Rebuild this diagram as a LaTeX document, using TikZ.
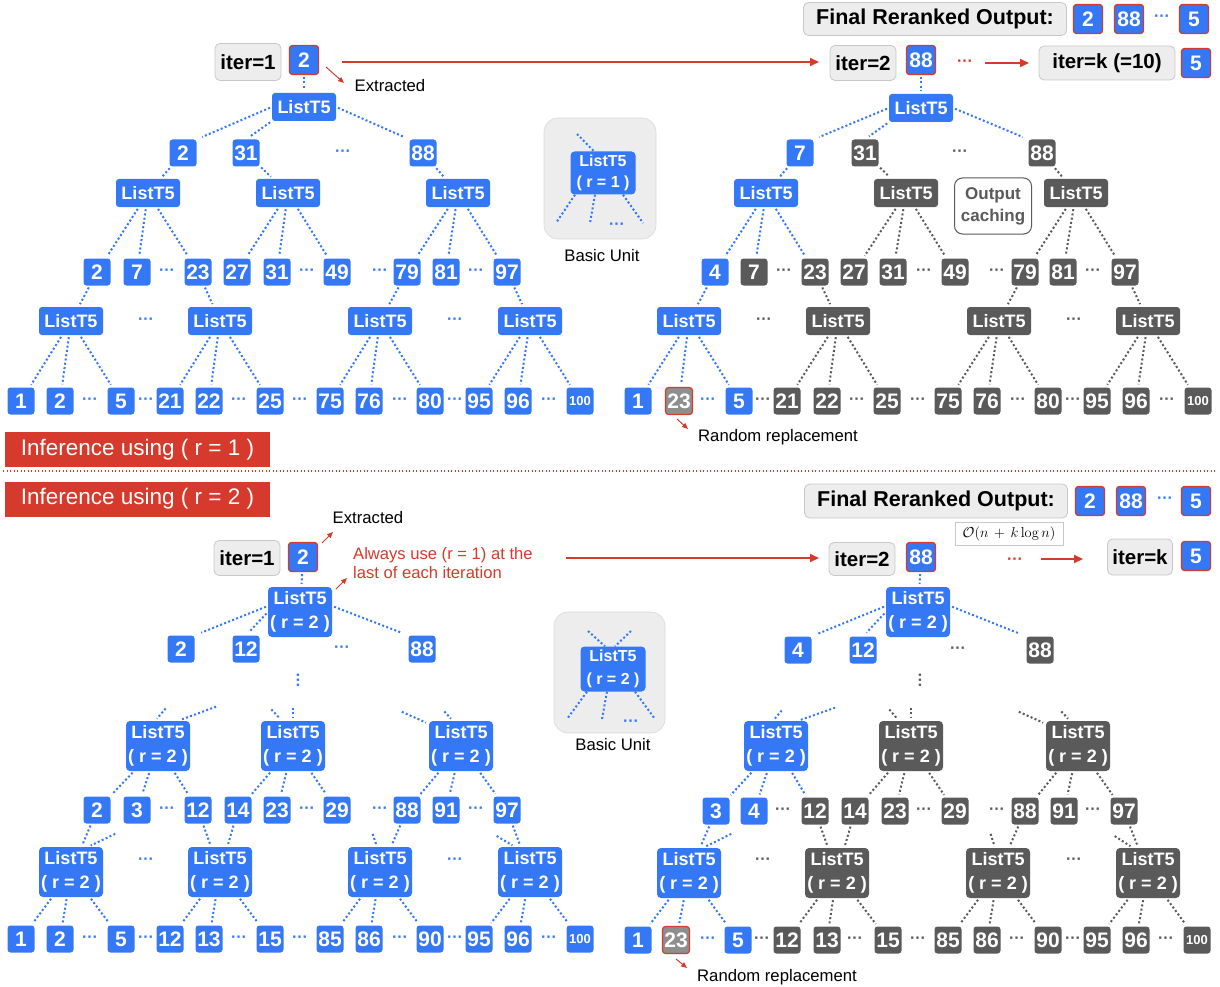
\documentclass[tikz,border=0pt]{standalone}
\usepackage[no-math]{fontspec}
\setmainfont{Liberation Sans}
\usetikzlibrary{arrows.meta,calc}
\definecolor{ublue}{HTML}{3478F6}
\definecolor{ugray}{HTML}{5A5A5A}
\definecolor{ured}{HTML}{D63A2C}
\definecolor{lbox}{HTML}{EDEDED}
\definecolor{lbord}{HTML}{C8C8C8}
\definecolor{rgray}{HTML}{8E8E8E}
\newcommand\fl[4]{\coordinate (#1) at (#2); \draw[#3] (#1) -- #4;}
\tikzset{
  num/.style={rounded corners=3pt, minimum width=27pt, minimum height=27pt, inner sep=0pt, text=white, font=\bfseries\fontsize{21}{21}\selectfont},
  nb/.style={num, fill=ublue},
  ng/.style={num, fill=ugray},
  nx/.style={num, fill=rgray, draw=ured, line width=1.2pt},
  nr/.style={num, fill=ublue, draw=ured, line width=1.3pt, minimum width=29pt, minimum height=29pt},
  small/.style={font=\bfseries\fontsize{13}{13}\selectfont},
  lt/.style={rounded corners=3pt, minimum width=64pt, minimum height=28pt, inner sep=0pt, text=white, font=\bfseries\fontsize{18}{18}\selectfont},
  ltb/.style={lt, fill=ublue},
  ltg/.style={lt, fill=ugray},
  lw/.style={rounded corners=4pt, minimum width=64pt, minimum height=50pt, inner sep=0pt, text=white, align=center, font=\bfseries\fontsize{18}{24}\selectfont},
  lwb/.style={lw, fill=ublue},
  lwg/.style={lw, fill=ugray},
  db/.style={text=ublue, font=\bfseries\fontsize{16}{16}\selectfont, inner sep=0pt},
  dg/.style={db, text=ugray},
  dr/.style={db, text=ured},
  bl/.style={draw=ublue, line width=2pt, dash pattern=on 2pt off 2.3pt, shorten <=2pt, shorten >=3pt},
  gl/.style={bl, draw=ugray},
  ibox/.style={fill=lbox, draw=lbord, line width=0.8pt, rounded corners=5pt, inner sep=0pt, font=\bfseries\fontsize{20.5}{20.5}\selectfont},
  lbl/.style={font=\fontsize{16.7}{16.7}\selectfont, inner sep=0pt},
  rarr/.style={draw=ured, line width=1.8pt, -{Triangle[length=9pt,width=8pt]}},
  rsm/.style={draw=ured, line width=1pt, -{Triangle[length=6pt,width=5pt]}},
  banner/.style={fill=ured, text=white, minimum width=265pt, minimum height=35pt, inner sep=0pt, font=\fontsize{22.5}{22.5}\selectfont},
}
\begin{document}
\begin{tikzpicture}[x=1pt,y=-1pt]
\useasboundingbox (0,0) rectangle (1220,987);

% ================= TOP HEADER =================
\node[ibox, minimum width=66pt, minimum height=37pt] (I1) at (248,62) {iter=1};
\node[nr] (O1) at (304,60) {2};
\node[ibox, minimum width=66pt, minimum height=35pt] (I2) at (863,63) {iter=2};
\node[nr] (O2) at (921,60) {88};
\node[dr] (R1) at (965,63) {···};
\node[ibox, minimum width=136pt, minimum height=34pt] (Ik) at (1107,63) {iter=k (=10)};
\node[nr] (Ok) at (1196,63) {5};
\node[ibox, minimum width=263pt, minimum height=33pt, font=\bfseries\fontsize{21.5}{21.5}\selectfont] (F1) at (935,19) {Final Reranked Output:};
\node[nr] (F1a) at (1088,19) {2};
\node[nr] (F1b) at (1129,19) {88};
\node[db] (F1c) at (1162,18) {···};
\node[nr] (F1d) at (1194,19) {5};
\coordinate (e1s) at (326,67); \coordinate (e1t) at (344,83);
\draw[rsm] (e1s) -- (e1t);
\node[lbl] (ex1) at (390,86) {Extracted};
\coordinate (a1s) at (342,62); \coordinate (a1t) at (819,62);
\draw[rarr] (a1s) -- (a1t);
\coordinate (a2s) at (985,63); \coordinate (a2t) at (1029,63);
\draw[rarr] (a2s) -- (a2t);

% ================= TOP LEFT TREE =================
\node[ltb] (A0) at (304,107) {ListT5};
\draw[bl] (O1) -- (A0);
\foreach \n/\x/\t in {a/183/2, b/246/31, c/423/88} \node[nb] (A1\n) at (\x,153) {\t};
\node[db] (A1p) at (343,153) {···};
\foreach \n/\x in {a/148,b/288,c/458} \node[ltb] (A2\n) at (\x,193) {ListT5};
\foreach \n/\x/\t in {a/97/2, b/137/7, c/198/23, d/237/27, e/277/31, f/337/49, g/407/79, h/446/81, i/507/97} \node[nb] (A3\n) at (\x,272) {\t};
\foreach \x [count=\i] in {167,307,380,476} \node[db] (A3p\i) at (\x,272) {···};
\foreach \n/\x in {a/71,b/220,c/380,d/530} \node[ltb] (A4\n) at (\x,321) {ListT5};
\foreach \x [count=\i] in {146,455} \node[db] (A4p\i) at (\x,321) {···};
\foreach \n/\x/\t in {a/21/1,b/60/2,c/121/5,d/170/21,e/209/22,f/270/25,g/330/75,h/369/76,i/430/80,j/479/95,k/518/96} \node[nb] (A5\n) at (\x,401) {\t};
\node[nb,small] (A5l) at (580,401) {100};
\foreach \x [count=\i] in {90,146,239,300,400,455,549} \node[db] (A5p\i) at (\x,401) {···};
\draw[bl, shorten >=6pt] (A0.west) -- (A1a.north east);
\draw[bl, shorten >=5pt] (A0.south west) -- (A1b.north);
\draw[bl, shorten >=6pt] (A0.east) -- (A1c.north west);
\foreach \p/\c in {A1a/A2a, A1b/A2b, A1c/A2c, A2a/A3a, A2a/A3b, A2a/A3c, A2b/A3d, A2b/A3e, A2b/A3f, A2c/A3g, A2c/A3h, A2c/A3i, A3a/A4a, A3c/A4b, A3g/A4c, A3i/A4d, A4a/A5a, A4a/A5b, A4a/A5c, A4b/A5d, A4b/A5e, A4b/A5f, A4c/A5g, A4c/A5h, A4c/A5i, A4d/A5j, A4d/A5k, A4d/A5l} \draw[bl] (\p) -- (\c);

% ================= TOP BASIC UNIT =================
\node[fill=lbox, draw=lbord!70, line width=0.6pt, rounded corners=14pt, minimum width=112pt, minimum height=121pt, inner sep=0pt] (BUa) at (600,178.5) {};
\node[lw, fill=ublue, minimum width=65pt, minimum height=43pt, font=\bfseries\fontsize{16}{21}\selectfont] (BU1) at (603,173) {ListT5\\( r = 1 )};
\coordinate (u1) at (577,134); \draw[bl, shorten <=0pt, shorten >=0pt] (u1) -- (BU1.north -| 594,0);
\coordinate (u2) at (556,223); \draw[bl, shorten <=0pt, shorten >=0pt] ([xshift=-28pt]BU1.south) -- (u2);
\coordinate (u3) at (590,223); \draw[bl, shorten <=0pt, shorten >=0pt] ([xshift=-8pt]BU1.south) -- (u3);
\coordinate (u4) at (643,223); \draw[bl, shorten <=0pt, shorten >=0pt] ([xshift=20pt]BU1.south) -- (u4);
\node[db] (BU1p) at (617,226) {···};
\node[lbl] (BU1t) at (602,256) {Basic Unit};

% ================= TOP RIGHT TREE =================
\node[ltb] (B0) at (921,108) {ListT5};
\draw[bl] (O2) -- (B0);
\foreach \n/\x/\t/\s in {a/800/7/nb, b/865/31/ng, c/1042/88/ng} \node[\s] (B1\n) at (\x,153) {\t};
\node[dg] (B1p) at (960,153) {···};
\foreach \n/\x/\s in {a/766/ltb,b/906/ltg,c/1076/ltg} \node[\s] (B2\n) at (\x,193) {ListT5};
\foreach \n/\x/\t/\s in {a/715/4/nb, b/754/7/ng, c/815/23/ng, d/854/27/ng, e/893/31/ng, f/955/49/ng, g/1025/79/ng, h/1063/81/ng, i/1125/97/ng} \node[\s] (B3\n) at (\x,272) {\t};
\foreach \x [count=\i] in {784,924,997,1093} \node[dg] (B3p\i) at (\x,272) {···};
\foreach \n/\x/\s in {a/689/ltb,b/838/ltg,c/999/ltg,d/1148/ltg} \node[\s] (B4\n) at (\x,321) {ListT5};
\foreach \x [count=\i] in {764,1074} \node[dg] (B4p\i) at (\x,321) {···};
\foreach \n/\x/\t/\s in {a/638/1/nb,b/679/23/nx,c/739/5/nb,d/787/21/ng,e/827/22/ng,f/887/25/ng,g/948/75/ng,h/987/76/ng,i/1048/80/ng,j/1097/95/ng,k/1136/96/ng} \node[\s] (B5\n) at (\x,401) {\t};
\node[ng,small] (B5l) at (1198,401) {100};
\node[db] (B5p0) at (708,401) {···};
\foreach \x [count=\i] in {763,857,918,1018,1073,1167} \node[dg] (B5p\i) at (\x,401) {···};
\draw[bl, shorten >=6pt] (B0.west) -- (B1a.north east);
\draw[bl, shorten >=5pt] (B0.south west) -- (B1b.north);
\draw[bl, shorten >=6pt] (B0.east) -- (B1c.north west);
\foreach \p/\c in {B1a/B2a, B2a/B3a, B2a/B3b, B2a/B3c, B3a/B4a, B4a/B5a, B4a/B5b, B4a/B5c} \draw[bl] (\p) -- (\c);
\foreach \p/\c in {B1b/B2b, B1c/B2c, B2b/B3d, B2b/B3e, B2b/B3f, B2c/B3g, B2c/B3h, B2c/B3i, B3c/B4b, B3g/B4c, B3i/B4d, B4b/B5d, B4b/B5e, B4b/B5f, B4c/B5g, B4c/B5h, B4c/B5i, B4d/B5j, B4d/B5k, B4d/B5l} \draw[gl] (\p) -- (\c);
\node[draw=ugray, line width=1pt, rounded corners=8pt, fill=white, minimum width=77pt, minimum height=56pt, inner sep=0pt, text=ugray, align=center, font=\bfseries\fontsize{17}{22}\selectfont] (OC) at (993,206) {Output\\caching};
\coordinate (rr1s) at (677,419); \coordinate (rr1t) at (688,429);
\draw[rsm] (rr1s) -- (rr1t);
\node[lbl] (rr1) at (778,437) {Random replacement};

% ================= BANNERS =================
\node[banner] (ban1) at (137.5,449.5) {Inference using ( r = 1 )};
\coordinate (s1) at (3,471); \coordinate (s2) at (1217,471);
\draw[ured, line width=1.3pt, dash pattern=on 1.3pt off 2.2pt] (s1) -- (s2);
\node[banner] (ban2) at (137.5,499) {Inference using ( r = 2 )};

% ================= BOTTOM HEADER =================
\node[ibox, minimum width=66pt, minimum height=35pt] (J1) at (247,558) {iter=1};
\node[nr] (P1) at (303,557) {2};
\coordinate (e2s) at (322,543); \coordinate (e2t) at (333,532);
\draw[rsm] (e2s) -- (e2t);
\node[lbl] (ex2) at (368,518) {Extracted};
\node[lbl, text=ured, align=left, anchor=west, font=\fontsize{16.6}{19}\selectfont] (note) at (353,563.5) {Always use (r = 1) at the\\last of each iteration};
\coordinate (n1s) at (336,589); \coordinate (n1t) at (347,578);
\draw[rsm] (n1s) -- (n1t);
\coordinate (a3s) at (566,558); \coordinate (a3t) at (819,558);
\draw[rarr] (a3s) -- (a3t);
\node[ibox, minimum width=66pt, minimum height=33pt] (J2) at (862,559) {iter=2};
\node[nr] (P2) at (921,557) {88};
\node[dr] (R2) at (1015,561) {···};
\coordinate (a4s) at (1041,559); \coordinate (a4t) at (1083,559);
\draw[rarr] (a4s) -- (a4t);
\node[ibox, minimum width=65pt, minimum height=36pt] (Jk) at (1140,557) {iter=k};
\node[nr] (Pk) at (1196,556) {5};
\node[ibox, minimum width=263pt, minimum height=34pt, font=\bfseries\fontsize{21.5}{21.5}\selectfont] (F2) at (936,501) {Final Reranked Output:};
\node[nr] (F2a) at (1090,501) {2};
\node[nr] (F2b) at (1131,501) {88};
\node[db] (F2c) at (1165,500) {···};
\node[nr] (F2d) at (1196,501) {5};
\node[draw=lbord, line width=0.6pt, minimum width=108pt, minimum height=23pt, inner sep=0pt, font=\fontsize{14}{14}\selectfont] (cx) at (1009,533.5) {$\mathcal{O}(n\,+\,k\log n)$};

% ================= BOTTOM LEFT TREE =================
\node[lwb] (C0) at (300,612) {ListT5\\( r = 2 )};
\draw[bl] (P1) -- (C0);
\foreach \n/\x/\t in {a/181/2, b/246/12, c/422/88} \node[nb] (C1\n) at (\x,649) {\t};
\node[db] (C1p) at (342,649) {···};
\node[db, rotate=90] (C1v) at (300,680) {···};
\foreach \n/\x in {a/158,b/293,c/461} \node[lwb] (C2\n) at (\x,746) {ListT5\\( r = 2 )};
\foreach \n/\x/\t in {a/97/2, b/137/3, c/198/12, d/238/14, e/277/23, f/337/29, g/407/88, h/446/91, i/507/97} \node[nb] (C3\n) at (\x,810) {\t};
\foreach \x [count=\i] in {167,307,380,476} \node[db] (C3p\i) at (\x,810) {···};
\foreach \n/\x in {a/71,b/220,c/380,d/530} \node[lwb] (C4\n) at (\x,872) {ListT5\\( r = 2 )};
\foreach \x [count=\i] in {146,455} \node[db] (C4p\i) at (\x,861) {···};
\foreach \n/\x/\t in {a/21/1,b/60/2,c/121/5,d/170/12,e/209/13,f/270/15,g/330/85,h/369/86,i/430/90,j/479/95,k/518/96} \node[nb] (C5\n) at (\x,939) {\t};
\node[nb,small] (C5l) at (580,939) {100};
\foreach \x [count=\i] in {90,146,239,300,400,455,549} \node[db] (C5p\i) at (\x,939) {···};
\draw[bl, shorten >=7pt] ([yshift=6pt]C0.west) -- (C1a.north east);
\draw[bl, shorten >=5pt] (C0.west) -- (C1b.north);
\draw[bl, shorten >=7pt] ([yshift=6pt]C0.east) -- (C1c.north west);
\fl{fc1}{167,707}{bl}{([xshift=-3pt]C2a.north)}
\fl{fc2}{218,706}{bl}{([xshift=20pt]C2a.north)}
\fl{fc3}{270,708}{bl}{([xshift=-11pt]C2b.north)}
\fl{fc4}{293,706}{bl}{(C2b.north)}
\fl{fc5}{400,711}{bl}{([yshift=-3pt]C2c.north west)}
\fl{fc6}{443,710}{bl}{([xshift=-8pt]C2c.north)}
\fl{fc7}{117,833}{bl}{([xshift=17pt]C4a.north)}
\fl{fc8}{372,832}{bl}{([xshift=-3pt]C4c.north)}
\fl{fc9}{495,835}{bl}{([xshift=-15pt]C4d.north)}
\foreach \p/\c in {C2a/C3a, C2a/C3b, C2a/C3c, C2b/C3d, C2b/C3e, C2b/C3f, C2c/C3g, C2c/C3h, C2c/C3i, C3a/C4a, C3c/C4b, C3d/C4b, C3g/C4c, C3i/C4d, C4a/C5a, C4a/C5b, C4a/C5c, C4b/C5d, C4b/C5e, C4b/C5f, C4c/C5g, C4c/C5h, C4c/C5i, C4d/C5j, C4d/C5k, C4d/C5l} \draw[bl] (\p) -- (\c);

% ================= BOTTOM BASIC UNIT =================
\node[fill=lbox, draw=lbord!70, line width=0.6pt, rounded corners=14pt, minimum width=111pt, minimum height=121pt, inner sep=0pt] (BUb) at (609.5,672.5) {};
\node[lw, fill=ublue, minimum width=65pt, minimum height=45pt, font=\bfseries\fontsize{16}{23}\selectfont] (BU2) at (613,669) {ListT5\\( r = 2 )};
\coordinate (v1) at (588,631); \draw[bl, shorten <=0pt, shorten >=0pt] (v1) -- ([xshift=-8pt]BU2.north);
\coordinate (v2) at (631,631); \draw[bl, shorten <=0pt, shorten >=0pt] (v2) -- ([xshift=2pt]BU2.north);
\coordinate (v3) at (567,719); \draw[bl, shorten <=0pt, shorten >=0pt] ([xshift=-26pt]BU2.south) -- (v3);
\coordinate (v4) at (602,719); \draw[bl, shorten <=0pt, shorten >=0pt] ([xshift=-6pt]BU2.south) -- (v4);
\coordinate (v5) at (655,719); \draw[bl, shorten <=0pt, shorten >=0pt] ([xshift=22pt]BU2.south) -- (v5);
\node[db] (BU2p) at (631,723) {···};
\node[lbl] (BU2t) at (613,745) {Basic Unit};

% ================= BOTTOM RIGHT TREE =================
\node[lwb] (D0) at (918,612) {ListT5\\( r = 2 )};
\draw[bl] (P2) -- (D0);
\foreach \n/\x/\t/\s in {a/798/4/nb, b/863/12/nb, c/1040/88/ng} \node[\s] (D1\n) at (\x,650) {\t};
\node[dg] (D1p) at (958,650) {···};
\node[dg, rotate=90] (D1v) at (922,680) {···};
\foreach \n/\x/\s in {a/776/lwb,b/911/lwg,c/1078/lwg} \node[\s] (D2\n) at (\x,746) {ListT5\\( r = 2 )};
\foreach \n/\x/\t/\s in {a/716/3/nb, b/754/4/nb, c/815/12/ng, d/855/14/ng, e/895/23/ng, f/955/29/ng, g/1025/88/ng, h/1064/91/ng, i/1124/97/ng} \node[\s] (D3\n) at (\x,811) {\t};
\foreach \x [count=\i] in {783,924,997,1093} \node[dg] (D3p\i) at (\x,811) {···};
\foreach \n/\x/\s in {a/689/lwb,b/837/lwg,c/998/lwg,d/1148/lwg} \node[\s] (D4\n) at (\x,873) {ListT5\\( r = 2 )};
\foreach \x [count=\i] in {763,1074} \node[dg] (D4p\i) at (\x,861) {···};
\foreach \n/\x/\t/\s in {a/638/1/nb,b/676/23/nx,c/738/5/nb,d/787/12/ng,e/827/13/ng,f/888/15/ng,g/948/85/ng,h/987/86/ng,i/1048/90/ng,j/1097/95/ng,k/1136/96/ng} \node[\s] (D5\n) at (\x,940) {\t};
\node[ng,small] (D5l) at (1197,940) {100};
\node[db] (D5p0) at (708,940) {···};
\foreach \x [count=\i] in {762,855,918,1017,1073,1166} \node[dg] (D5p\i) at (\x,940) {···};
\draw[bl, shorten >=7pt] ([yshift=6pt]D0.west) -- (D1a.north east);
\draw[bl, shorten >=5pt] (D0.west) -- (D1b.north);
\draw[bl, shorten >=7pt] ([yshift=6pt]D0.east) -- (D1c.north west);
\fl{fd1}{783,709}{bl}{([xshift=-3pt]D2a.north)}
\fl{fd2}{837,707}{bl}{([xshift=22pt]D2a.north)}
\fl{fd3}{888,708}{gl}{([xshift=-12pt]D2b.north)}
\fl{fd4}{911,706}{gl}{(D2b.north)}
\fl{fd5}{1017,711}{gl}{([yshift=-3pt]D2c.north west)}
\fl{fd6}{1060,710}{gl}{([xshift=-8pt]D2c.north)}
\fl{fd7}{733,833}{bl}{([xshift=14pt]D4a.north)}
\fl{fd8}{990,832}{gl}{([xshift=-3pt]D4c.north)}
\fl{fd9}{1113,835}{gl}{([xshift=-15pt]D4d.north)}
\foreach \p/\c in {D2a/D3a, D2a/D3b, D2a/D3c, D3a/D4a, D4a/D5a, D4a/D5b, D4a/D5c} \draw[bl] (\p) -- (\c);
\foreach \p/\c in {D2b/D3d, D2b/D3e, D2b/D3f, D2c/D3g, D2c/D3h, D2c/D3i, D3c/D4b, D3d/D4b, D3g/D4c, D3i/D4d, D4b/D5d, D4b/D5e, D4b/D5f, D4c/D5g, D4c/D5h, D4c/D5i, D4d/D5j, D4d/D5k, D4d/D5l} \draw[gl] (\p) -- (\c);
\coordinate (rr2s) at (676,959); \coordinate (rr2t) at (687,968);
\draw[rsm] (rr2s) -- (rr2t);
\node[lbl] (rr2) at (777,977) {Random replacement};
\end{tikzpicture}
\end{document}
